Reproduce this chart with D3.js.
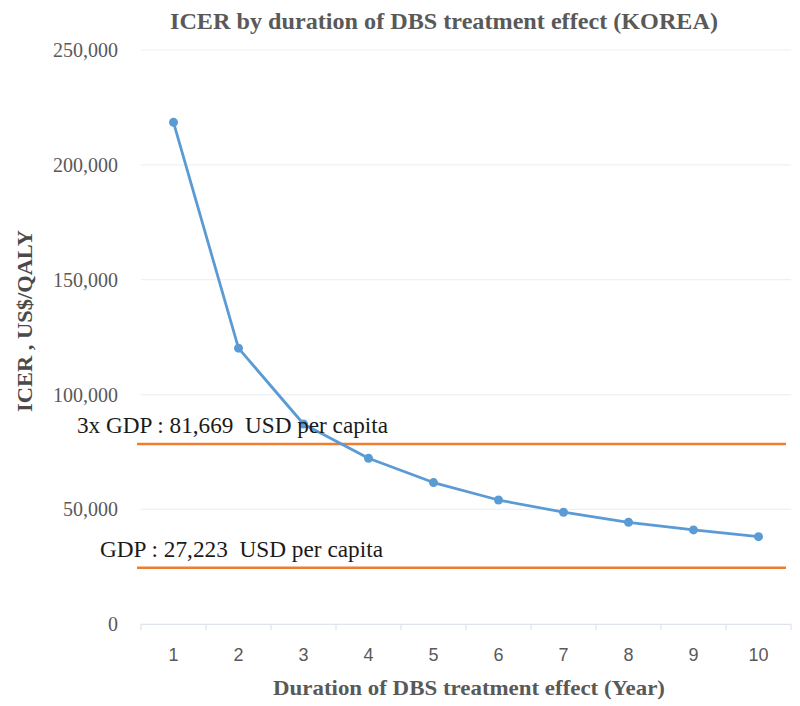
<!DOCTYPE html>
<html>
<head>
<meta charset="utf-8">
<script src="https://cdn.jsdelivr.net/npm/d3@7"></script>
<style>
  html, body { margin: 0; padding: 0; background: #fff; }
  svg { display: block; }
</style>
</head>
<body>
<svg id="chart" width="800" height="706"></svg>
<script>
// ---- data ----
const years = [1, 2, 3, 4, 5, 6, 7, 8, 9, 10];
const icerValues = [218500, 120200, 87200, 72300, 61700, 54100, 48800, 44400, 41100, 38150];
const yTicks = [0, 50000, 100000, 150000, 200000, 250000];
const thresholdValues = [78500, 24650];
const thresholdLabels = ["3x GDP : 81,669  USD per capita", "GDP : 27,223  USD per capita"];
const titleText = "ICER by duration of DBS treatment effect (KOREA)";
const xTitleText = "Duration of DBS treatment effect (Year)";
const yTitleText = "ICER , US$/QALY";

const svg = d3.select("#chart");
const plot = { left: 141, right: 791, top: 50, bottom: 624.3 };

const x = d3.scaleBand().domain(years).range([plot.left, plot.right]).padding(0);
const y = d3.scaleLinear().domain([0, 250000]).range([plot.bottom, plot.top]);

const grey = "#595959";
const serif = "'Liberation Serif', 'Times New Roman', serif";
const sans = "'Liberation Sans', Arial, sans-serif";

// gridlines
svg.append("g").selectAll("line").data(yTicks.filter(d => d > 0)).join("line")
  .attr("x1", plot.left).attr("x2", plot.right)
  .attr("y1", d => y(d)).attr("y2", d => y(d))
  .attr("stroke", "#edf0f5").attr("stroke-width", 1.2);

// x axis line and ticks
const axisColor = "#dde4ee";
svg.append("line")
  .attr("x1", plot.left).attr("x2", plot.right)
  .attr("y1", y(0)).attr("y2", y(0))
  .attr("stroke", axisColor).attr("stroke-width", 1.2);
const boundaries = years.map(d => x(d)).concat([x(years[years.length - 1]) + x.bandwidth()]);
svg.append("g").selectAll("line").data(boundaries).join("line")
  .attr("x1", d => d).attr("x2", d => d)
  .attr("y1", y(0)).attr("y2", y(0) + 6)
  .attr("stroke", axisColor).attr("stroke-width", 1.2);

// y tick labels
svg.append("g").selectAll("text").data(yTicks).join("text")
  .attr("x", 118).attr("y", d => y(d))
  .attr("dy", "0.35em")
  .attr("text-anchor", "end")
  .attr("font-family", serif).attr("font-size", 20)
  .attr("fill", grey)
  .text(d => d3.format(",")(d));

// x tick labels
svg.append("g").selectAll("text").data(years).join("text")
  .attr("x", d => x(d) + x.bandwidth() / 2).attr("y", 661)
  .attr("text-anchor", "middle")
  .attr("font-family", sans).attr("font-size", 18)
  .attr("fill", grey)
  .text(d => d);

// threshold lines
svg.append("g").selectAll("line").data(thresholdValues).join("line")
  .attr("x1", plot.left - 4).attr("x2", plot.right - 5)
  .attr("y1", d => y(d)).attr("y2", d => y(d))
  .attr("stroke", "#ED7D31").attr("stroke-width", 2.5);

// ICER line
const pts = years.map((d, i) => ({ yr: d, v: icerValues[i] }));
svg.append("path").datum(pts)
  .attr("fill", "none")
  .attr("stroke", "#5B9BD5").attr("stroke-width", 2.8)
  .attr("stroke-linejoin", "round")
  .attr("d", d3.line().x(d => x(d.yr) + x.bandwidth() / 2).y(d => y(d.v)));
svg.append("g").selectAll("circle").data(pts).join("circle")
  .attr("cx", d => x(d.yr) + x.bandwidth() / 2).attr("cy", d => y(d.v))
  .attr("r", 4.5).attr("fill", "#5B9BD5");

// threshold labels
const labelPos = [{ x: 77, y: 433, w: 311 }, { x: 100, y: 556.5, w: 283 }];
svg.append("g").selectAll("text").data(thresholdLabels).join("text")
  .attr("x", (d, i) => labelPos[i].x).attr("y", (d, i) => labelPos[i].y)
  .attr("font-family", serif).attr("font-size", 24)
  .attr("fill", "#1a1a1a")
  .attr("textLength", (d, i) => labelPos[i].w)
  .attr("lengthAdjust", "spacingAndGlyphs")
  .style("white-space", "pre")
  .text(d => d);

// title
svg.append("text")
  .attr("x", 444).attr("y", 29)
  .attr("text-anchor", "middle")
  .attr("font-family", serif).attr("font-weight", "bold").attr("font-size", 23)
  .attr("fill", grey)
  .attr("textLength", 548).attr("lengthAdjust", "spacingAndGlyphs")
  .text(titleText);

// x axis title
svg.append("text")
  .attr("x", 469).attr("y", 695)
  .attr("text-anchor", "middle")
  .attr("font-family", serif).attr("font-weight", "bold").attr("font-size", 22)
  .attr("fill", grey)
  .attr("textLength", 392).attr("lengthAdjust", "spacingAndGlyphs")
  .text(xTitleText);

// y axis title
svg.append("text")
  .attr("transform", "translate(32,321) rotate(-90)")
  .attr("text-anchor", "middle")
  .attr("font-family", serif).attr("font-weight", "bold").attr("font-size", 22)
  .attr("fill", "#4a4a4a")
  .attr("textLength", 182).attr("lengthAdjust", "spacingAndGlyphs")
  .text(yTitleText);
</script>
</body>
</html>
